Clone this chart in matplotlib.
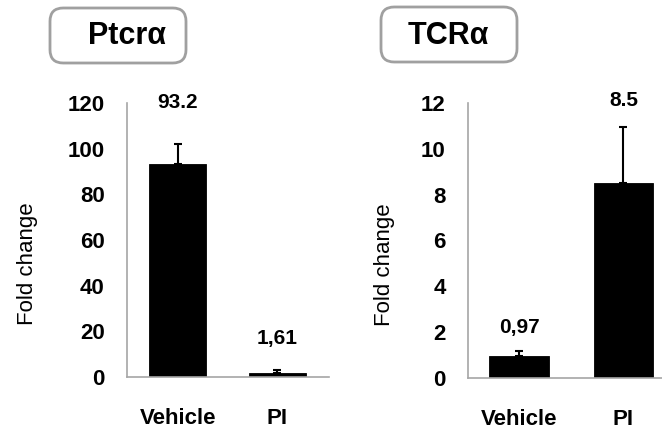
import matplotlib
matplotlib.use('Agg')
import matplotlib.pyplot as plt
from matplotlib.patches import FancyBboxPatch

plt.rcParams['font.family'] = ['Liberation Sans', 'DejaVu Sans']

# ---- data ----
groups = ['Vehicle', 'PI']

ptcra_mean = [93.2, 1.61]
ptcra_err = [8.8, 1.3]
ptcra_labels = ['93.2', '1,61']
ptcra_label_y = [117.8, 14.5]
ptcra_ticks = [0, 20, 40, 60, 80, 100, 120]

tcra_mean = [0.97, 8.5]
tcra_err = [0.21, 2.45]
tcra_labels = ['0,97', '8.5']
tcra_label_y = [1.96, 11.87]
tcra_ticks = [0, 2, 4, 6, 8, 10, 12]

W, H = 662, 430
fig = plt.figure(figsize=(W / 100, H / 100), dpi=100)

axis_grey = '#a6a6a6'


def px_box(x0, y0, x1, y1):
    # pixel box (top-left origin) -> figure fraction rect
    return [x0 / W, 1 - y1 / H, (x1 - x0) / W, (y1 - y0) / H]


def draw_panel(rect, means, errs, labels, label_y, ticks, xlim, ylab_x):
    ax = fig.add_axes(rect)
    x = list(range(len(groups)))
    # error bars behind the bars so only the upper part shows
    ax.errorbar(x, means, yerr=[[0] * len(errs), errs], fmt='none', ecolor='black',
                elinewidth=1.5, capsize=2.8, capthick=1.5, zorder=1)
    ax.bar(x, means, width=0.57, color='black', edgecolor='black', linewidth=0.6, zorder=2)
    for xi, lab, ly in zip(x, labels, label_y):
        ax.text(xi, ly, lab, ha='center', va='baseline', fontsize=15,
                fontweight='bold', clip_on=False)
    ax.set_xlim(*xlim)
    ax.set_ylim(0, ticks[-1])
    ax.set_yticks(ticks)
    ax.set_yticklabels([str(t) for t in ticks], fontsize=16, fontweight='bold')
    ax.set_xticks(x)
    ax.set_xticklabels(groups, fontsize=16, fontweight='bold')
    ax.tick_params(axis='y', length=0, pad=16)
    ax.tick_params(axis='x', length=0, pad=22)
    for s in ['top', 'right']:
        ax.spines[s].set_visible(False)
    for s in ['left', 'bottom']:
        ax.spines[s].set_color(axis_grey)
        ax.spines[s].set_linewidth(1.2)
    ax.set_ylabel('Fold change', fontsize=16, va='center')
    ax.yaxis.set_label_coords(ylab_x, 0.413)
    return ax


draw_panel(px_box(127, 103, 329, 377), ptcra_mean, ptcra_err, ptcra_labels,
           ptcra_label_y, ptcra_ticks, (-0.51, 1.52), -0.495)
draw_panel(px_box(468, 103, 662, 378), tcra_mean, tcra_err, tcra_labels,
           tcra_label_y, tcra_ticks, (-0.49, 1.37), -0.43)

# ---- title boxes ----
for (x0, y0, x1, y1), title, tx in [((50, 8, 186, 63), 'Ptcrα', 126.5),
                                     ((381, 7, 517, 62), 'TCRα', 448.5)]:
    r = px_box(x0, y0, x1, y1)
    box = FancyBboxPatch((r[0], r[1]), r[2], r[3], boxstyle='round,pad=0,rounding_size=0.02',
                         transform=fig.transFigure, facecolor='white',
                         edgecolor='#a0a0a0', linewidth=2.0, mutation_aspect=W / H)
    fig.patches.append(box)
    fig.text(tx / W, 1 - 36 / H, title, ha='center', va='center', fontsize=22,
             fontweight='bold')

fig.savefig('out.png', dpi=100)
